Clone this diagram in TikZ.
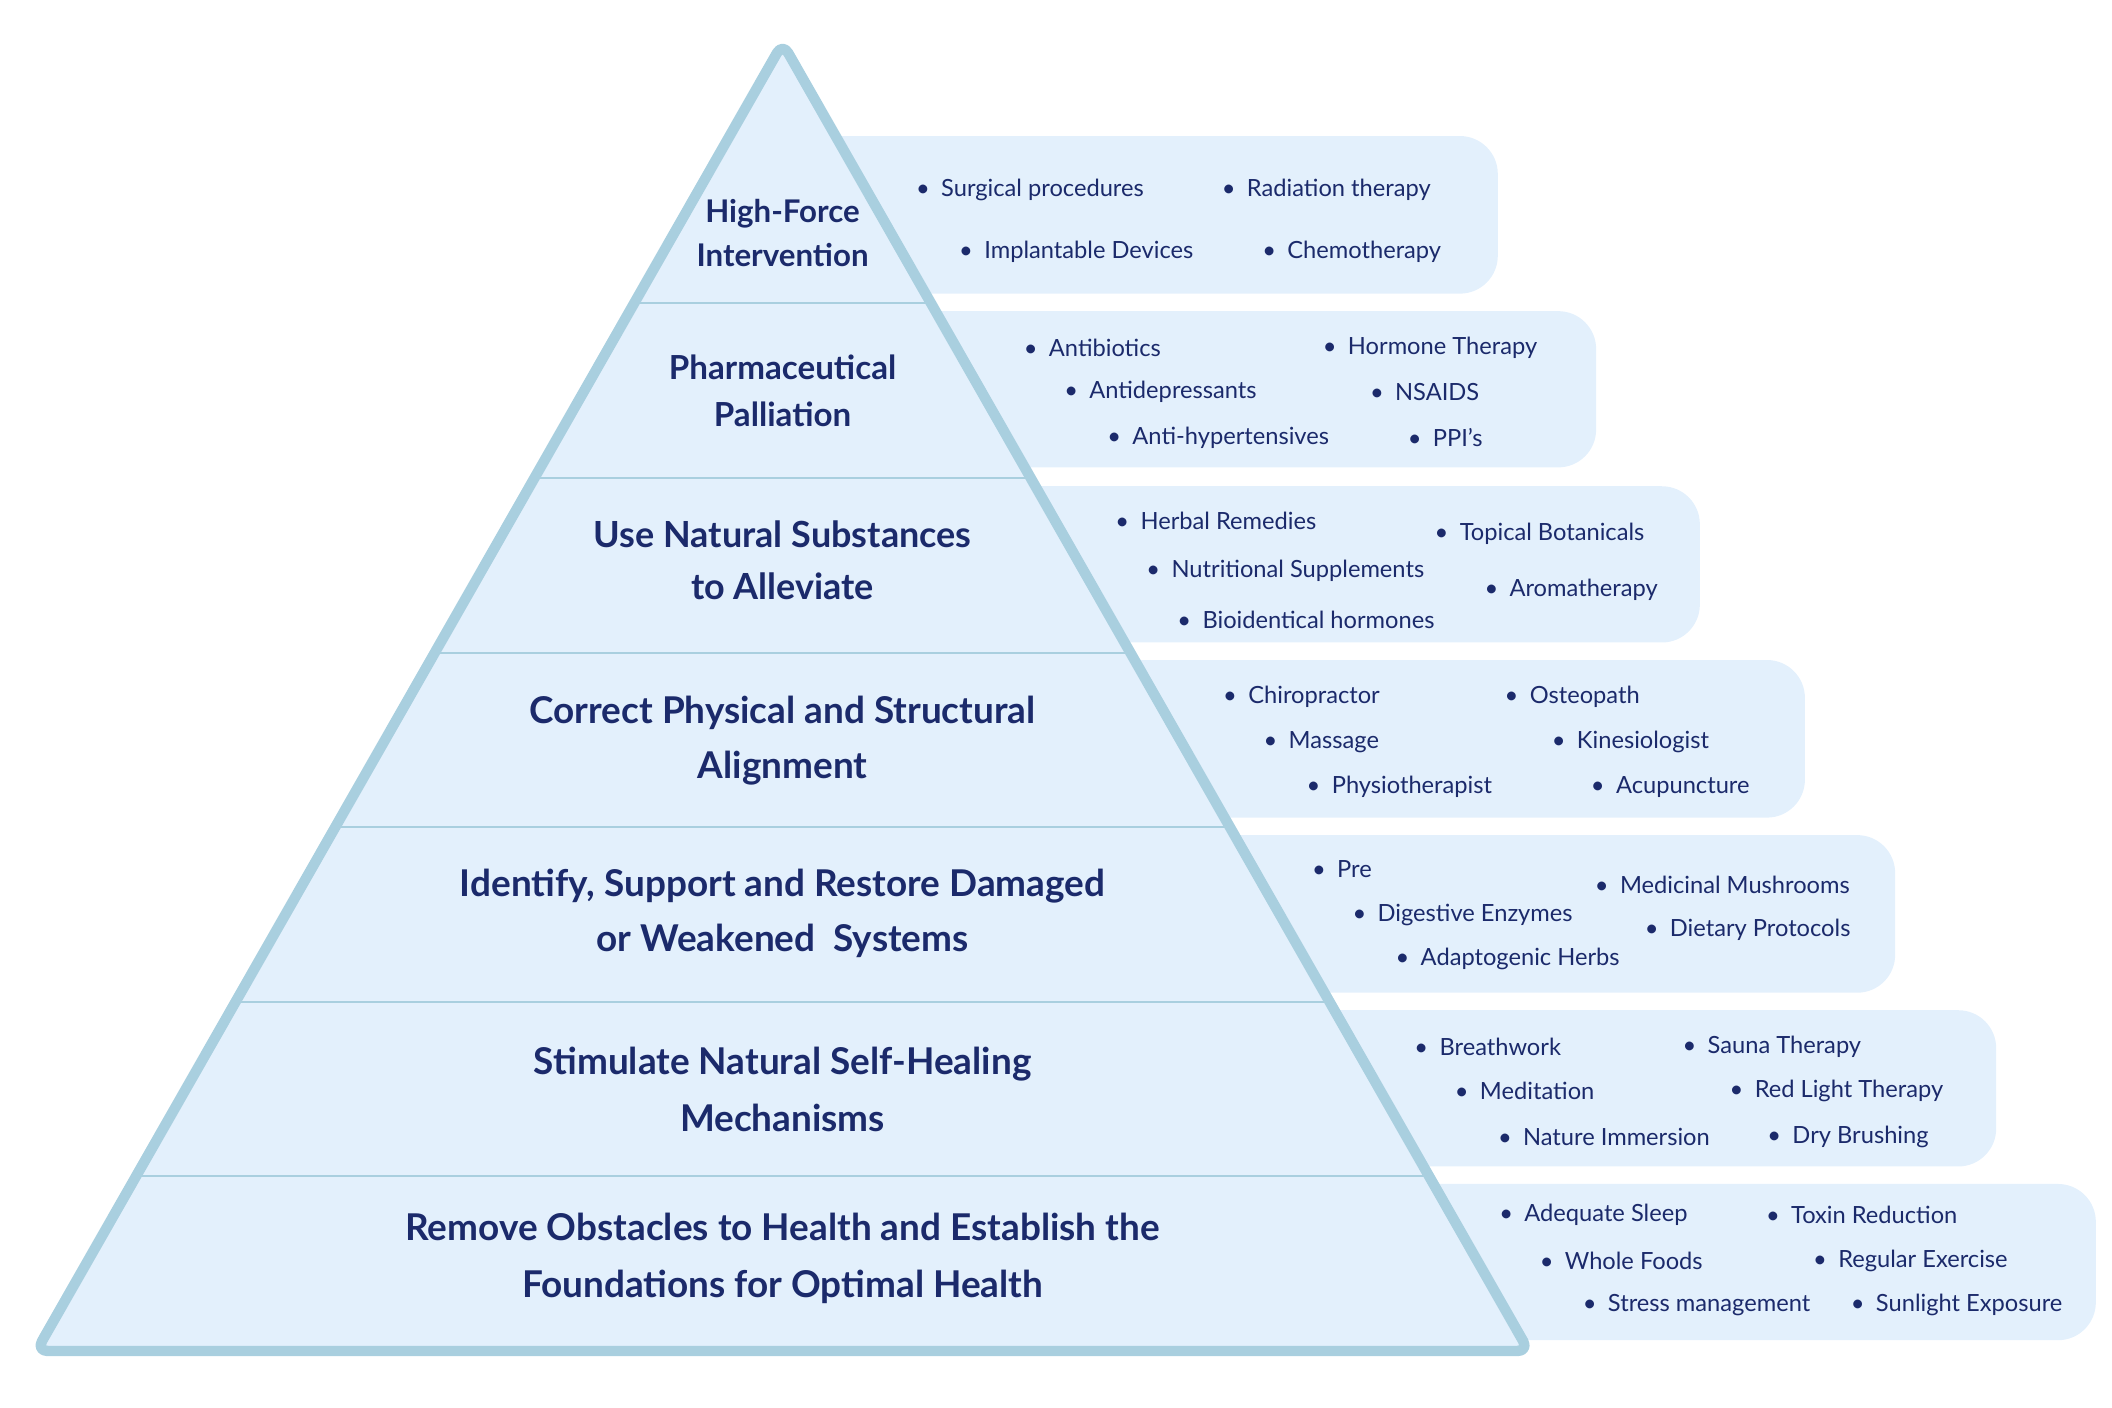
\documentclass[tikz,border=0pt]{standalone}
\usepackage{fontspec}
\setmainfont{Lato}
\definecolor{edge}{HTML}{A9CFDF}
\definecolor{fillc}{HTML}{E3F0FC}
\definecolor{navy}{HTML}{1B2A6B}
\begin{document}
\begin{tikzpicture}[x=0.05cm,y=-0.05cm,
  sidebox/.style={fill=fillc,rounded corners=40},
  tier/.style={font=\bfseries, text=navy, align=center, inner sep=0},
  item/.style={anchor=west, text=navy, inner sep=0, font=\fontsize{25}{30}\selectfont}]
\useasboundingbox (0,0) rectangle (1568,1045);
% side boxes
\fill[sidebox] (580,101) rectangle (1112,218);
\fill[sidebox] (650,231) rectangle (1185,347);
\fill[sidebox] (730,361) rectangle (1262,477);
\fill[sidebox] (800,490) rectangle (1340,607);
\fill[sidebox] (880,620) rectangle (1407,737);
\fill[sidebox] (950,750) rectangle (1482,866);
\fill[sidebox] (1030,879) rectangle (1556,995);
% pyramid
\coordinate (apex) at (581,32);
\coordinate (bl) at (27,1003);
\coordinate (br) at (1135,1003);
\fill[fillc,rounded corners=12] (apex) -- (br) -- (bl) -- cycle;
\begin{scope}
\clip (apex) -- (br) -- (bl) -- cycle;
\foreach \yy in {225,355,485,614,744,873} \draw[edge,line width=2.2pt] (0,\yy) -- (1200,\yy);
\end{scope}
\draw[edge,line width=11pt,rounded corners=12,line join=round] (apex) -- (br) -- (bl) -- cycle;
% tiers
\node[tier,font=\fontsize{33}{46}\selectfont\bfseries] (t1) at (581,173) {High-Force\\Intervention};
\node[tier,font=\fontsize{35}{50}\selectfont\bfseries] (t2) at (581,290) {Pharmaceutical\\Palliation};
\node[tier,font=\fontsize{38}{55}\selectfont\bfseries] (t3) at (581,416) {Use Natural Substances\\to Alleviate};
\node[tier,font=\fontsize{39}{58}\selectfont\bfseries] (t4) at (581,550) {Correct Physical and Structural\\Alignment};
\node[tier,font=\fontsize{39}{58}\selectfont\bfseries] (t5) at (581,678) {Identify, Support and Restore Damaged\\or Weakened\ \ Systems};
\node[tier,font=\fontsize{39}{60}\selectfont\bfseries] (t6) at (581,809) {Stimulate Natural Self-Healing\\Mechanisms};
\node[tier,font=\fontsize{39}{60}\selectfont\bfseries] (t7) at (581,934) {Remove Obstacles to Health and Establish the\\Foundations for Optimal Health};
% items
\foreach \x/\y/\t [count=\i] in {
 684/141/Surgical procedures, 911/141/Radiation therapy, 716/187/Implantable Devices, 941/187/Chemotherapy,
 764/258/Antibiotics, 986/258/Hormone Therapy, 794/291/Antidepressants, 1021/291/NSAIDS, 826/325/Anti-hypertensives, 1049/325/PPI’s,
 832/387/Herbal Remedies, 855/424/Nutritional Supplements, 878/460/Bioidentical hormones, 1069/396/Topical Botanicals, 1106/438/Aromatherapy,
 912/517/Chiropractor, 942/551/Massage, 974/584/Physiotherapist, 1121/517/Osteopath, 1156/551/Kinesiologist, 1185/584/Acupuncture,
 978/645/Pre / Pro / Postbiotics, 1008/679/Digestive Enzymes, 1040/712/Adaptogenic Herbs, 1188/657/Medicinal Mushrooms, 1225/690/Dietary Protocols,
 1054/777/Breathwork, 1084/810/Meditation, 1116/844/Nature Immersion, 1253/777/Sauna Therapy, 1288/810/Red Light Therapy, 1316/844/Dry Brushing,
 1117/902/Adequate Sleep, 1147/936/Whole Foods, 1179/969/Stress management, 1315/902/Toxin Reduction, 1350/936/Regular Exercise, 1378/969/Sunlight Exposure}
 \node[item] (i\i) at (\x-4,\y) {•\hspace{12pt}\t};
\end{tikzpicture}
\end{document}
